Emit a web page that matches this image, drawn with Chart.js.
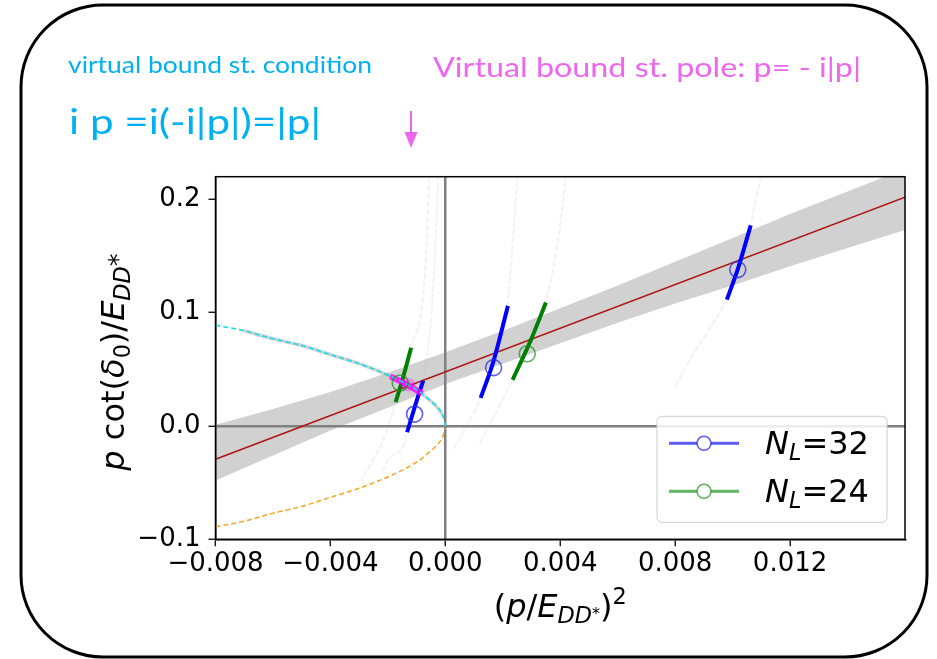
<!DOCTYPE html>
<html><head><meta charset="utf-8">
<script src="https://cdn.jsdelivr.net/npm/chart.js@4.4.0/dist/chart.umd.min.js"></script>
<style>html,body{margin:0;padding:0;background:#fff;}canvas{display:block;}</style>
</head><body>
<canvas id="c" width="937" height="659"></canvas>
<script>
// ---------- values ----------
const xTickValues = [-0.008, -0.004, 0, 0.004, 0.008, 0.012];
const xTickLabels = ['−0.008', '−0.004', '0.000', '0.004', '0.008', '0.012'];
const yTickValues = [-0.1, 0, 0.1, 0.2];
const yTickLabels = ['−0.1', '0.0', '0.1', '0.2'];

// error band of the ERE fit
const bandX     = [-0.008, -0.006, -0.004, -0.002, 0, 0.002, 0.004, 0.006, 0.008, 0.010, 0.012, 0.014, 0.016];
const bandUpper = [0.001, 0.015, 0.030, 0.047, 0.065, 0.084, 0.104, 0.124, 0.145, 0.166, 0.187, 0.207, 0.227];
const bandLower = [-0.048, -0.026, -0.004, 0.016, 0.037, 0.055, 0.073, 0.091, 0.108, 0.124, 0.141, 0.157, 0.173];
// central ERE fit line
const fitX = [-0.008, 0.016];
const fitY = [-0.0294, 0.2019];

// virtual bound state condition (+|p|) and bound state (-|p|) curves
const vbX = [-0.008, -0.007, -0.006, -0.005, -0.004, -0.003, -0.002, -0.0015, -0.001, -0.0006, -0.0003, -0.0001, 0];
const vbY = [0.089, 0.084, 0.077, 0.071, 0.063, 0.055, 0.045, 0.039, 0.032, 0.024, 0.017, 0.010, 0.0];
const bsY = [-0.089, -0.084, -0.077, -0.071, -0.063, -0.055, -0.045, -0.039, -0.032, -0.024, -0.017, -0.010, -0.002];

// virtual bound state pole
const poleX = [-0.00192, -0.0015, -0.0012, -0.00081];
const poleY = [0.0438, 0.0387, 0.0346, 0.0285];
const polePtX = [-0.00128];
const polePtY = [0.0365];

// faint Luescher curves
const l32aX = [-0.0022, -0.0019, -0.00147, -0.00133, -0.00105, -0.00077, -0.00045, -0.00024];
const l32aY = [-0.040, -0.027, -0.0185, -0.0055, 0.018, 0.040, 0.111, 0.22];
const l24aX = [-0.0030, -0.0024, -0.00203, -0.00174, -0.0012, -0.0007, -0.00056];
const l24aY = [-0.050, -0.025, -0.004, 0.021, 0.0686, 0.137, 0.22];
const l32bX = [0.0003, 0.00122, 0.00167, 0.00216, 0.00236, 0.0025];
const l32bY = [-0.020, 0.0245, 0.058, 0.1056, 0.167, 0.22];
const l24bX = [0.0012, 0.00233, 0.00296, 0.00349, 0.0039, 0.0042];
const l24bY = [-0.015, 0.040, 0.0756, 0.1086, 0.16, 0.22];
const l32cX = [0.0080, 0.00854, 0.00977, 0.01018, 0.0106, 0.01099];
const l32cY = [0.035, 0.0597, 0.111, 0.1374, 0.176, 0.22];

// thick error segments
const b1X = [-0.00133, -0.00105, -0.00077], b1Y = [-0.0055, 0.018, 0.040];
const b2X = [0.00123, 0.00165, 0.00218],   b2Y = [0.0248, 0.055, 0.106];
const b3X = [0.0098, 0.0102, 0.01063],     b3Y = [0.1115, 0.140, 0.177];
const g1X = [-0.00173, -0.00148, -0.00119], g1Y = [0.021, 0.042, 0.069];
const g2X = [0.00234, 0.00298, 0.0035],    g2Y = [0.0407, 0.076, 0.109];

// lattice data points
const n32X = [-0.00107, 0.00168, 0.01018], n32Y = [0.0105, 0.0515, 0.138];
const n24X = [-0.00157, 0.00285],          n24Y = [0.038, 0.0637];

const legendLabels = ['32', '24'];

// ---------- chart ----------
const xy = (xs, ys) => xs.map((x, i) => ({x: x, y: ys[i]}));
function curve(xs, ys, o) {
  return Object.assign({data: xy(xs, ys), pointRadius: 0, borderWidth: 1.5, fill: false,
    cubicInterpolationMode: 'monotone'}, o);
}
const BLUE = '#0000ff', GREEN = '#008000';
const faint = {borderColor: 'rgba(150,150,150,0.12)', borderWidth: 2, borderDash: [6, 2], order: 15};

const datasets = [
  curve(bandX, bandUpper, {borderWidth: 0, fill: '+1', backgroundColor: 'rgba(128,128,128,0.36)', order: 30, cubicInterpolationMode: 'default', tension: 0}),
  curve(bandX, bandLower, {borderWidth: 0, order: 31, cubicInterpolationMode: 'default', tension: 0}),
  curve(l32aX, l32aY, faint),
  curve(l24aX, l24aY, faint),
  curve(l32bX, l32bY, faint),
  curve(l24bX, l24bY, faint),
  curve(l32cX, l32cY, faint),
  curve(vbX.slice(1, 12), vbY.slice(1, 12), {borderColor: 'rgba(128,128,128,0.35)', borderWidth: 3.5, order: 14}),
  curve(vbX, bsY, {borderColor: '#f5a623', borderWidth: 1.5, borderDash: [5, 3], order: 13}),
  curve(fitX, fitY, {borderColor: '#b01515', borderWidth: 1.5, order: 12, cubicInterpolationMode: 'default', tension: 0}),
  curve(b1X, b1Y, {borderColor: BLUE, borderWidth: 4, order: 10}),
  curve(b2X, b2Y, {borderColor: BLUE, borderWidth: 4, order: 10}),
  curve(b3X, b3Y, {borderColor: BLUE, borderWidth: 4, order: 10}),
  curve(g1X, g1Y, {borderColor: GREEN, borderWidth: 4, order: 10}),
  curve(g2X, g2Y, {borderColor: GREEN, borderWidth: 4, order: 10}),
  curve(poleX, poleY, {borderColor: 'rgba(255,0,255,0.8)', borderWidth: 6, order: 8}),
  curve(polePtX, polePtY, {showLine: false, pointRadius: 7, pointBackgroundColor: 'rgba(255,0,255,0.3)', pointBorderWidth: 0, order: 7}),
  curve(vbX, vbY, {borderColor: '#10e0e8', borderWidth: 1.6, borderDash: [5, 3], order: 6}),
  curve(n32X, n32Y, {showLine: false, pointRadius: 8, pointBorderWidth: 1.6, pointBorderColor: 'rgba(40,40,230,0.75)', pointBackgroundColor: 'rgba(0,0,0,0)', order: 1}),
  curve(n24X, n24Y, {showLine: false, pointRadius: 8, pointBorderWidth: 1.6, pointBorderColor: 'rgba(30,140,30,0.7)', pointBackgroundColor: 'rgba(0,0,0,0)', order: 1})
];

function drawRich(ctx, segs, x, y, base, family) {
  let cx = x;
  for (const s of segs) {
    const size = base * (s.sc || 1);
    ctx.font = (s.it ? 'italic ' : '') + size + 'px "' + family + '"';
    ctx.fillText(s.t, cx, y + (s.dy || 0) * base);
    cx += ctx.measureText(s.t).width;
  }
  return cx - x;
}
function richWidth(ctx, segs, base, family) {
  let w = 0;
  for (const s of segs) {
    ctx.font = (s.it ? 'italic ' : '') + base * (s.sc || 1) + 'px "' + family + '"';
    w += ctx.measureText(s.t).width;
  }
  return w;
}
function fitText(ctx, text, x, baseline, width, size, family, color) {
  ctx.save();
  ctx.font = size + 'px "' + family + '"';
  const w = ctx.measureText(text).width;
  ctx.translate(x, baseline);
  ctx.scale(width / w, 1);
  ctx.fillStyle = color;
  ctx.textBaseline = 'alphabetic';
  ctx.textAlign = 'left';
  ctx.fillText(text, 0, 0);
  ctx.restore();
}

const decor = {
  id: 'decor',
  afterDraw(chart) {
    const ctx = chart.ctx, a = chart.chartArea;
    ctx.save();
    // plot frame
    ctx.strokeStyle = '#000'; ctx.lineWidth = 1.5;
    ctx.strokeRect(a.left, a.top, a.right - a.left, a.bottom - a.top);

    // axis titles
    const FAM = 'DejaVu Sans';
    ctx.fillStyle = '#000'; ctx.textBaseline = 'alphabetic'; ctx.textAlign = 'left';
    const yt = [
      {t: 'p', it: true}, {t: ' cot('}, {t: 'δ', it: true}, {t: '0', sc: 0.7, dy: 0.2},
      {t: ')/'}, {t: 'E', it: true}, {t: 'DD', it: true, sc: 0.7, dy: 0.2}, {t: '*', sc: 0.8, dy: 0.05}
    ];
    const ys = 32, yw = richWidth(ctx, yt, ys, FAM);
    ctx.save();
    ctx.translate(124, (a.top + a.bottom) / 2 + 4);
    ctx.rotate(-Math.PI / 2);
    drawRich(ctx, yt, -yw / 2, 0, ys, FAM);
    ctx.restore();
    const xt = [
      {t: '(', }, {t: 'p', it: true}, {t: '/'}, {t: 'E', it: true}, {t: 'DD', it: true, sc: 0.7, dy: 0.2},
      {t: '*', sc: 0.5, dy: 0.05}, {t: ')'}, {t: '2', sc: 0.7, dy: -0.4}
    ];
    const xs = 32, xw = richWidth(ctx, xt, xs, FAM);
    drawRich(ctx, xt, (a.left + a.right) / 2 - xw / 2, 617, xs, FAM);

    // legend
    const lw = 230, lh = 106;
    const lx = a.right - 18 - lw, ly = a.bottom - 17 - lh;
    ctx.beginPath();
    ctx.roundRect(lx, ly, lw, lh, 5);
    ctx.fillStyle = 'rgba(255,255,255,0.85)'; ctx.fill();
    ctx.strokeStyle = '#cccccc'; ctx.lineWidth = 1; ctx.stroke();
    const cols = ['rgba(40,40,240,0.75)', 'rgba(30,150,30,0.7)'];
    legendLabels.forEach((lab, i) => {
      const ry = ly + 27 + i * 48;
      ctx.strokeStyle = cols[i]; ctx.lineWidth = 3;
      ctx.beginPath(); ctx.moveTo(lx + 12, ry); ctx.lineTo(lx + 40, ry); ctx.stroke();
      ctx.beginPath(); ctx.moveTo(lx + 54, ry); ctx.lineTo(lx + 82, ry); ctx.stroke();
      ctx.lineWidth = 1.6;
      ctx.beginPath(); ctx.arc(lx + 47, ry, 7, 0, Math.PI * 2); ctx.stroke();
      ctx.fillStyle = '#000';
      drawRich(ctx, [{t: 'N', it: true}, {t: 'L', it: true, sc: 0.7, dy: 0.18}, {t: '=' + lab}], lx + 108, ry + 11, 32, FAM);
    });

    // annotations
    fitText(ctx, 'virtual bound st. condition', 68, 73, 304, 23, 'Lato', '#00b0f0');
    fitText(ctx, 'Virtual bound st. pole: p= - i|p|', 433, 77, 428, 27, 'Lato', '#ee66ee');
    fitText(ctx, 'i p =i(-i|p|)=|p|', 69, 134, 252, 34, 'Lato', '#00b0f0');
    // arrow
    ctx.strokeStyle = '#ee66ee'; ctx.fillStyle = '#ee66ee'; ctx.lineWidth = 2;
    ctx.beginPath(); ctx.moveTo(411, 111); ctx.lineTo(411, 134); ctx.stroke();
    ctx.beginPath(); ctx.moveTo(404.5, 132); ctx.lineTo(417.5, 132); ctx.lineTo(411, 148); ctx.closePath(); ctx.fill();

    // rounded slide frame
    ctx.strokeStyle = '#000'; ctx.lineWidth = 3;
    ctx.beginPath(); ctx.roundRect(21, 5, 906, 652, 82); ctx.stroke();
    ctx.restore();
  }
};

const zeroLine = c => (c.tick && Math.abs(c.tick.value) < 1e-9) ? '#808080' : 'rgba(0,0,0,0)';
const tickFont = {family: 'DejaVu Sans', size: 26};

new Chart(document.getElementById('c'), {
  type: 'line',
  data: {datasets: datasets},
  options: {
    responsive: false, animation: false, devicePixelRatio: 1,
    layout: {padding: {left: 0, top: 176.7, right: 32, bottom: 0}},
    plugins: {legend: {display: false}, tooltip: {enabled: false}, filler: {drawTime: 'beforeDatasetsDraw'}},
    elements: {point: {radius: 0}},
    scales: {
      x: {
        type: 'linear', min: -0.008, max: 0.016,
        afterBuildTicks: s => { s.ticks = xTickValues.map(v => ({value: v})); },
        afterFit: s => { s.height = 119.7; },
        ticks: {autoSkip: false, maxRotation: 0, color: '#000', font: tickFont, padding: 2,
          callback: (v, i) => xTickLabels[i]},
        grid: {color: zeroLine, lineWidth: 2.5, drawTicks: true, tickLength: 7, tickColor: '#000', tickWidth: 1.3},
        border: {display: true, color: '#000', width: 1.5}
      },
      y: {
        type: 'linear', min: -0.1, max: 0.22,
        afterBuildTicks: s => { s.ticks = yTickValues.map(v => ({value: v})); },
        afterFit: s => { s.width = 215.5; },
        ticks: {autoSkip: false, color: '#000', font: tickFont, padding: 8,
          callback: (v, i) => yTickLabels[i]},
        grid: {color: zeroLine, lineWidth: 2.5, drawTicks: true, tickLength: 7, tickColor: '#000', tickWidth: 1.3},
        border: {display: true, color: '#000', width: 1.5}
      }
    }
  },
  plugins: [decor]
});
</script>
</body></html>
